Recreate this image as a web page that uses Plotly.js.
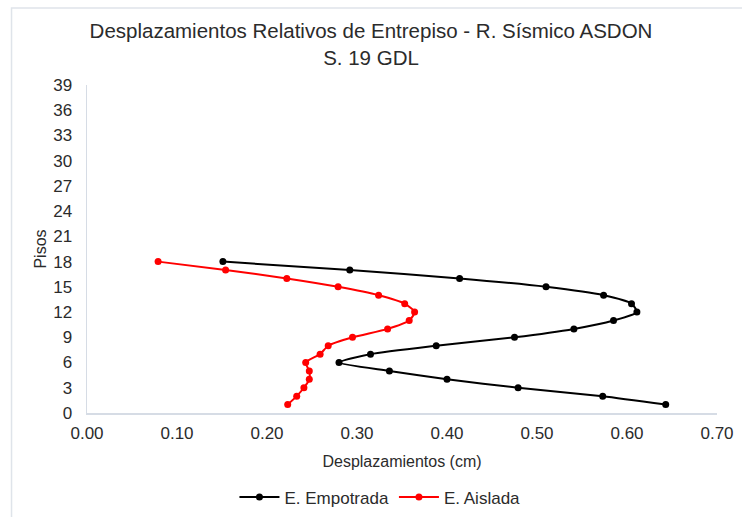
<!DOCTYPE html>
<html>
<head>
<meta charset="utf-8">
<script src="https://cdn.plot.ly/plotly-3.0.1.min.js"></script>
<style>html,body{margin:0;padding:0;background:#fff;overflow:hidden;}#chart{width:742px;height:517px;}</style>
</head>
<body>
<div id="chart"></div>
<script>
const pisos = [18,17,16,15,14,13,12,11,10,9,8,7,6,5,4,3,2,1];
const empotrada = [0.151,0.292,0.414,0.510,0.574,0.605,0.611,0.585,0.541,0.475,0.388,0.315,0.280,0.336,0.400,0.479,0.573,0.643];
const aislada = [0.079,0.154,0.222,0.279,0.324,0.353,0.364,0.358,0.334,0.295,0.268,0.259,0.243,0.247,0.247,0.241,0.233,0.223];
const xTicks = [0,0.1,0.2,0.3,0.4,0.5,0.6,0.7];
const yTicks = [0,3,6,9,12,15,18,21,24,27,30,33,36,39];

const font = {family: 'Liberation Sans, Arial, sans-serif', color: '#2b2b2b'};
const f = s => Object.assign({}, font, {size: s});

const traces = [
  {x: empotrada, y: pisos, name: 'E. Empotrada', mode: 'lines+markers',
   line: {color: '#000000', width: 2, shape: 'spline', smoothing: 0.6},
   marker: {color: '#000000', size: 7}},
  {x: aislada, y: pisos, name: 'E. Aislada', mode: 'lines+markers',
   line: {color: '#ff0000', width: 2, shape: 'spline', smoothing: 0.6},
   marker: {color: '#ff0000', size: 7}}
];

const layout = {
  width: 742, height: 517,
  paper_bgcolor: '#ffffff', plot_bgcolor: '#ffffff',
  margin: {l: 87, r: 25, t: 85, b: 104},
  font: f(16),
  title: {text: 'Desplazamientos Relativos de Entrepiso - R. Sísmico ASDON<br>S. 19 GDL',
          font: f(20.5), x: 0.5, xanchor: 'center', y: 0.926, yanchor: 'top'},
  xaxis: {range: [0, 0.7], tickvals: xTicks, ticktext: xTicks.map(v => v.toFixed(2)),
          showgrid: false, zeroline: false, showline: true, linecolor: '#d6dce5', linewidth: 1.5,
          ticks: '', tickfont: f(17), ticklabelstandoff: 4,
          title: {text: 'Desplazamientos (cm)', font: f(16), standoff: 14}},
  yaxis: {range: [0, 39], tickvals: yTicks, showgrid: false, zeroline: false, showline: true,
          linecolor: '#d6dce5', linewidth: 1.5, ticks: '', tickfont: f(17), ticklabelstandoff: 10,
          title: {text: 'Pisos', font: f(16), standoff: 2}},
  showlegend: true,
  legend: {orientation: 'h', xref: 'paper', x: 0.465, xanchor: 'center',
           yref: 'container', y: 0.038, yanchor: 'middle',
           font: f(17), itemwidth: 40},
  shapes: [{type: 'rect', xref: 'paper', yref: 'paper', x0: -0.1198, x1: 1.1, y0: -0.4, y1: 1.2348,
            line: {color: '#dfe4ea', width: 1.5}, layer: 'below'}]
};

Plotly.newPlot('chart', traces, layout, {displayModeBar: false, staticPlot: true});
</script>
</body>
</html>
